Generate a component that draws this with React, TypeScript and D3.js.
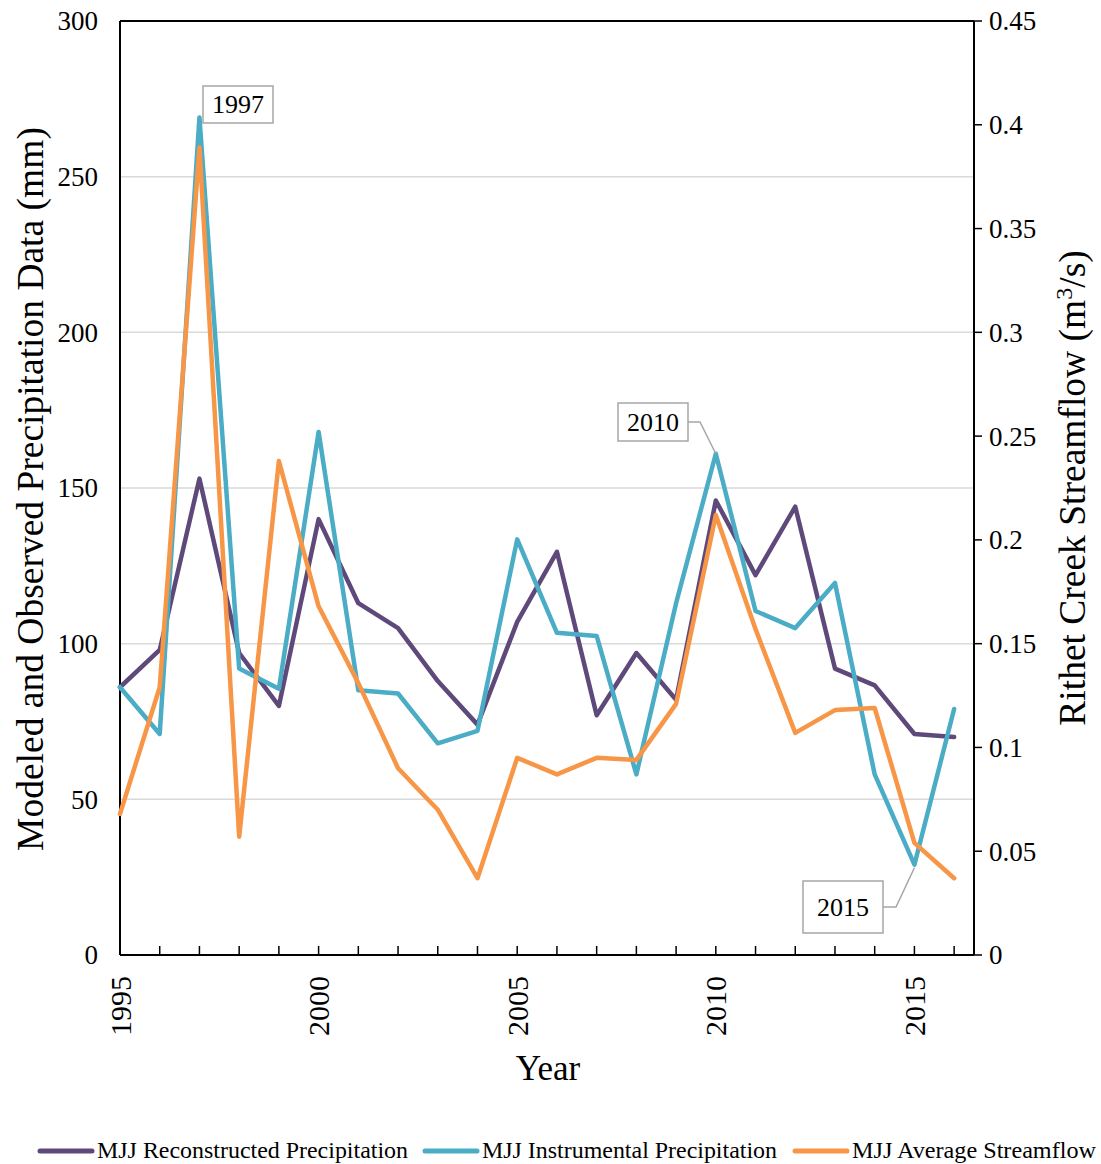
import React from 'react'
import * as d3 from 'd3'

const years = d3.range(1995, 2017)

const reconstructed = [
  86, 98, 153, 97, 80, 140, 113, 105, 88, 74, 107, 129.5, 77, 97, 82, 146, 122, 144, 92, 86.6, 71, 70,
]
const instrumental = [
  86, 71, 269, 92, 85.5, 168, 85, 84, 68, 72, 133.5, 103.5, 102.5, 58, 113, 161, 110.5, 105, 119.5, 58, 29, 79,
]
const streamflow = [
  0.068, 0.129, 0.389, 0.057, 0.238, 0.168, 0.131, 0.09, 0.07, 0.037, 0.095, 0.087, 0.095, 0.094, 0.121, 0.212,
  0.157, 0.107, 0.118, 0.119, 0.054, 0.037,
]

const leftTicks = [0, 50, 100, 150, 200, 250, 300]
const rightTicks = [0, 0.05, 0.1, 0.15, 0.2, 0.25, 0.3, 0.35, 0.4, 0.45]
const yearLabels = [1995, 2000, 2005, 2010, 2015]

const purple = '#5f497a'
const teal = '#4bacc6'
const orange = '#f79646'
const font = 'Liberation Serif, Times New Roman, serif'

const App: React.FunctionComponent = () => {
  const left = 120
  const right = 974
  const top = 21
  const bottom = 955

  const x = d3.scaleLinear().domain([1995, 2016.5]).range([left, right])
  const yLeft = d3.scaleLinear().domain([0, 300]).range([bottom, top])
  const yRight = d3.scaleLinear().domain([0, 0.45]).range([bottom, top])

  const precipLine = d3
    .line<number>()
    .x((_, i) => x(years[i]))
    .y(d => yLeft(d))
  const flowLine = d3
    .line<number>()
    .x((_, i) => x(years[i]))
    .y(d => yRight(d))

  const i2010 = years.indexOf(2010)
  const i2015 = years.indexOf(2015)

  return (
    <svg width={1101} height={1164} style={{ position: 'absolute', left: 0, top: 0 }} fontFamily={font}>
      <rect width={1101} height={1164} fill="#fff" />

      {leftTicks.slice(1, -1).map(t => (
        <line key={t} x1={left} x2={right} y1={yLeft(t)} y2={yLeft(t)} stroke="#d9d9d9" strokeWidth={1.5} />
      ))}

      {/* axes frame */}
      <line x1={left} x2={right} y1={top} y2={top} stroke="#000" strokeWidth={2} />
      <line x1={left} x2={left} y1={top} y2={bottom} stroke="#000" strokeWidth={2} />
      <line x1={right} x2={right} y1={top} y2={bottom} stroke="#000" strokeWidth={2} />
      <line x1={left} x2={right} y1={bottom} y2={bottom} stroke="#000" strokeWidth={2} />

      {years.map(yr => (
        <line key={yr} x1={x(yr)} x2={x(yr)} y1={bottom} y2={bottom - 9} stroke="#000" strokeWidth={1.5} />
      ))}
      {rightTicks.map(t => (
        <line key={t} x1={right} x2={right + 8} y1={yRight(t)} y2={yRight(t)} stroke="#000" strokeWidth={1.5} />
      ))}

      {leftTicks.map(t => (
        <text key={t} x={98} y={yLeft(t)} dy="0.35em" textAnchor="end" fontSize={27}>
          {t}
        </text>
      ))}
      {rightTicks.map(t => (
        <text key={t} x={989} y={yRight(t)} dy="0.35em" textAnchor="start" fontSize={27}>
          {d3.format('~g')(t)}
        </text>
      ))}
      {yearLabels.map(yr => (
        <text
          key={yr}
          transform={`translate(${x(yr)},${976}) rotate(-90)`}
          dy="0.35em"
          textAnchor="end"
          fontSize={30}
        >
          {yr}
        </text>
      ))}

      <text x={548} y={1080} textAnchor="middle" fontSize={35}>
        Year
      </text>
      <text transform="translate(30,489) rotate(-90)" dy="0.35em" textAnchor="middle" fontSize={37.5}>
        Modeled and Observed Precipitation Data (mm)
      </text>
      <text transform="translate(1072,488) rotate(-90)" dy="0.35em" textAnchor="middle" fontSize={37.5}>
        Rithet Creek Streamflow (m
        <tspan baselineShift="super" fontSize={24}>
          3
        </tspan>
        /s)
      </text>

      <path d={precipLine(reconstructed) ?? ''} fill="none" stroke={purple} strokeWidth={4.5} strokeLinejoin="round" strokeLinecap="round" />
      <path d={precipLine(instrumental) ?? ''} fill="none" stroke={teal} strokeWidth={4.5} strokeLinejoin="round" strokeLinecap="round" />
      <path d={flowLine(streamflow) ?? ''} fill="none" stroke={orange} strokeWidth={4.5} strokeLinejoin="round" strokeLinecap="round" />

      {/* annotations */}
      <g fontSize={26}>
        <rect x={203} y={86} width={70} height={37} fill="#fff" stroke="#a6a6a6" strokeWidth={1.5} />
        <text x={238} y={113} textAnchor="middle">
          1997
        </text>

        <polyline
          points={`688,422 700,422 ${x(2010)},${yLeft(instrumental[i2010])}`}
          fill="none"
          stroke="#a6a6a6"
          strokeWidth={1.5}
        />
        <rect x={618} y={403} width={70} height={38} fill="#fff" stroke="#a6a6a6" strokeWidth={1.5} />
        <text x={653} y={431} textAnchor="middle">
          2010
        </text>

        <polyline
          points={`883,907 896,907 ${x(2015)},${yLeft(instrumental[i2015]) + 3}`}
          fill="none"
          stroke="#a6a6a6"
          strokeWidth={1.5}
        />
        <rect x={803} y={881} width={80} height={52} fill="#fff" stroke="#a6a6a6" strokeWidth={1.5} />
        <text x={843} y={916} textAnchor="middle">
          2015
        </text>
      </g>

      {/* legend */}
      <g fontSize={24}>
        {[
          { label: 'MJJ Reconstructed Precipitation', color: purple, x0: 40, w: 311 },
          { label: 'MJJ Instrumental Precipitation', color: teal, x0: 425, w: 295 },
          { label: 'MJJ Average Streamflow', color: orange, x0: 795, w: 244 },
        ].map(d => (
          <g key={d.label}>
            <line x1={d.x0} x2={d.x0 + 52} y1={1151} y2={1151} stroke={d.color} strokeWidth={5} strokeLinecap="round" />
            <text x={d.x0 + 57} y={1158} textLength={d.w} lengthAdjust="spacingAndGlyphs">
              {d.label}
            </text>
          </g>
        ))}
      </g>
    </svg>
  )
}

export default App
